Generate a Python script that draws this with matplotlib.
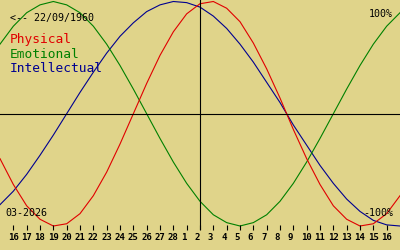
import matplotlib
matplotlib.use("Agg")
import matplotlib.pyplot as plt

# biorhythm around 2 March 2026, born 22/09/1960
days = list(range(-15, 16))
physical = [-0.40, -0.63, -0.82, -0.94, -1.00, -0.98, -0.89, -0.73, -0.52, -0.27, 0.00,
            0.27, 0.52, 0.73, 0.89, 0.98, 1.00, 0.94, 0.82, 0.63, 0.40, 0.14, -0.14,
            -0.40, -0.63, -0.82, -0.94, -1.00, -0.98, -0.89, -0.73]
emotional = [0.62, 0.78, 0.90, 0.97, 1.00, 0.97, 0.90, 0.78, 0.62, 0.43, 0.22, 0.00,
             -0.22, -0.43, -0.62, -0.78, -0.90, -0.97, -1.00, -0.97, -0.90, -0.78, -0.62,
             -0.43, -0.22, 0.00, 0.22, 0.43, 0.62, 0.78, 0.90]
intellectual = [-0.81, -0.69, -0.54, -0.37, -0.19, 0.00, 0.19, 0.37, 0.54, 0.69, 0.81,
                0.91, 0.97, 1.00, 0.99, 0.95, 0.87, 0.76, 0.62, 0.46, 0.28, 0.10, -0.10,
                -0.28, -0.46, -0.62, -0.76, -0.87, -0.95, -0.99, -1.00]
tick_days = list(range(-14, 15))
tick_labels = ["16", "17", "18", "19", "20", "21", "22", "23", "24", "25", "26", "27", "28",
               "1", "2", "3", "4", "5", "6", "7", "8", "9", "10", "11", "12", "13", "14",
               "15", "16"]

bg = "#e0d48a"
red = "#e00000"
green = "#008000"
blue = "#000090"
mono = "DejaVu Sans Mono"

W, H = 400, 250
fig = plt.figure(figsize=(4, 2.5), dpi=100, facecolor=bg)
ax = fig.add_axes([0, 0, 1, 1])
ax.set_facecolor(bg)
ax.axis("off")

# pixel mapping: v=1 -> y 1.5px, v=-1 -> y 226px
mid, amp = 113.75, 112.25
ax.set_xlim(-15, 15)
ax.set_ylim((mid - H) / amp, mid / amp)

ax.plot(days, intellectual, color=blue, lw=0.8)
ax.plot(days, emotional, color=green, lw=0.8)
ax.plot(days, physical, color=red, lw=0.8)

ax.axhline(0, color="black", lw=0.8)
tr = ax.get_xaxis_transform()
ax.plot([0, 0], [1, 21 / H], color="black", lw=0.8, transform=tr)
ax.vlines(tick_days, 20 / H, 25 / H, color="black", lw=0.8, transform=tr)
for d, lab in zip(tick_days, tick_labels):
    ax.text(d - 0.41, 10 / H, lab, transform=tr, ha="left", va="baseline",
            fontsize=6.5, fontweight="bold", family=mono)


def px_text(x, y, s, **kw):
    fig.text(x / W, 1 - y / H, s, va="baseline", family=mono, **kw)


px_text(10, 20.7, "<-- 22/09/1960", fontsize=7.2, color="black")
px_text(10, 43.5, "Physical", fontsize=9.3, color=red)
px_text(10, 57.5, "Emotional", fontsize=9.3, color=green)
px_text(10, 72, "Intellectual", fontsize=9.3, color=blue)
px_text(393, 16.5, "100%", fontsize=7.2, color="black", ha="right")
px_text(393, 216, "-100%", fontsize=7.2, color="black", ha="right")
px_text(5, 216, "03-2026", fontsize=7.2, color="black")

fig.savefig("out.png", dpi=100, facecolor=bg)
